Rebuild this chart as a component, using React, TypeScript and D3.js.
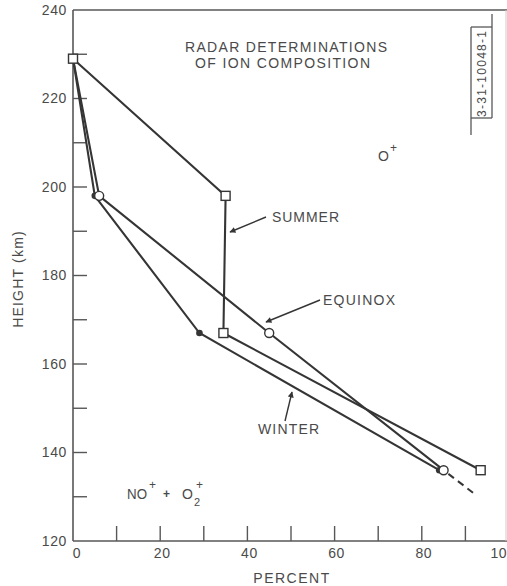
import React from "react";
import * as d3 from "d3";

const W = 507;
const H = 586;

type Pt = { p: number; h: number };

const summer: Pt[] = [
  { p: 0, h: 229 },
  { p: 35, h: 198 },
  { p: 34.5, h: 167 },
  { p: 93.5, h: 136 },
];
const equinox: Pt[] = [
  { p: 0, h: 229 },
  { p: 6, h: 198 },
  { p: 45, h: 167 },
  { p: 85, h: 136 },
];
const winter: Pt[] = [
  { p: 0, h: 229 },
  { p: 5, h: 198 },
  { p: 29, h: 167 },
  { p: 84, h: 136 },
];
const equinoxExtension: Pt[] = [
  { p: 85, h: 136 },
  { p: 92.3, h: 130.5 },
];

const xTicksMinor = d3.range(0, 101, 10);
const xTickLabels = [0, 20, 40, 60, 80, 100];
const yTicksMinor = d3.range(120, 241, 10);
const yTickLabels = [120, 140, 160, 180, 200, 220, 240];

const FONT = "'Liberation Sans', Arial, Helvetica, sans-serif";
const TXT = "#4a4a4a";
const LINE = "#353535";
const AX = "#575757";

export default function App() {
  const x = d3.scaleLinear().domain([0, 100]).range([73, 509]);
  const y = d3.scaleLinear().domain([120, 240]).range([541, 10]);
  const line = d3
    .line<Pt>()
    .x((d) => x(d.p))
    .y((d) => y(d.h));

  const arrow = (x1: number, y1: number, x2: number, y2: number, key: string) => (
    <line
      key={key}
      x1={x1}
      y1={y1}
      x2={x2}
      y2={y2}
      stroke={LINE}
      strokeWidth={1.4}
      markerEnd="url(#arrowhead)"
    />
  );

  const xLabelShift = (t: number) => (t === 0 ? 4 : t === 100 ? -6 : 2);

  return (
    <svg
      width={W}
      height={H}
      style={{ position: "absolute", left: 0, top: 0, background: "#fff" }}
      fontFamily={FONT}
    >
      <defs>
        <marker
          id="arrowhead"
          viewBox="0 0 10 10"
          refX="9"
          refY="5"
          markerWidth="7"
          markerHeight="6"
          orient="auto"
          markerUnits="userSpaceOnUse"
        >
          <path d="M0,0 L10,5 L0,10 z" fill={LINE} />
        </marker>
      </defs>
      <rect x={0} y={0} width={W} height={H} fill="#fff" />

      {/* frame */}
      <line x1={x(0)} y1={y(240)} x2={x(100)} y2={y(240)} stroke={AX} strokeWidth={1.5} />
      <line x1={x(0)} y1={y(240)} x2={x(0)} y2={y(120)} stroke={AX} strokeWidth={1.6} />
      <line x1={x(0)} y1={y(120)} x2={x(100)} y2={y(120)} stroke={AX} strokeWidth={1.6} />
      <line x1={x(100) - 3} y1={y(240)} x2={x(100) - 3} y2={y(120)} stroke="#ccc" strokeWidth={1} />

      {/* y ticks */}
      {yTicksMinor
        .filter((t) => t > 120 && t < 240)
        .map((t) => (
          <line key={"yt" + t} x1={x(0)} x2={x(0) + 14} y1={y(t)} y2={y(t)} stroke={AX} strokeWidth={1.4} />
        ))}
      {yTickLabels.map((t) => (
        <text
          key={"yl" + t}
          x={67}
          y={y(t)}
          dy="0.35em"
          textAnchor="end"
          fontSize={14}
          letterSpacing={0.6}
          fill={TXT}
        >
          {t}
        </text>
      ))}

      {/* x ticks */}
      {xTicksMinor
        .filter((t) => t > 0)
        .map((t) => (
          <line key={"xt" + t} x1={x(t)} x2={x(t)} y1={y(120)} y2={y(120) - 15} stroke={AX} strokeWidth={1.4} />
        ))}
      {xTickLabels.map((t) => (
        <text
          key={"xl" + t}
          x={x(t) + xLabelShift(t)}
          y={553}
          dy="0.35em"
          textAnchor="middle"
          fontSize={14}
          letterSpacing={0.6}
          fill={TXT}
        >
          {t}
        </text>
      ))}

      {/* axis titles */}
      <text x={292} y={578} dy="0.35em" textAnchor="middle" fontSize={14} fill={TXT} letterSpacing={1.5}>
        PERCENT
      </text>
      <text
        transform={`translate(18,279) rotate(-90)`}
        textAnchor="middle"
        dy="0.35em"
        fontSize={14}
        fill={TXT}
        letterSpacing={1.2}
      >
        HEIGHT (km)
      </text>

      {/* title */}
      <text x={185} y={47} dy="0.35em" fontSize={14} fill={TXT} textLength={202} lengthAdjust="spacing">
        RADAR DETERMINATIONS
      </text>
      <text x={195} y={63} dy="0.35em" fontSize={14} fill={TXT} textLength={175} lengthAdjust="spacing">
        OF ION COMPOSITION
      </text>

      {/* ID box */}
      <line x1={492} y1={14} x2={492} y2={118} stroke={AX} strokeWidth={1.3} />
      <line x1={471} y1={27} x2={492} y2={27} stroke={AX} strokeWidth={1.3} />
      <line x1={471} y1={27} x2={471} y2={135} stroke={AX} strokeWidth={1.3} />
      <line x1={471} y1={118} x2={492} y2={118} stroke={AX} strokeWidth={1.3} />
      <text
        transform="translate(482,74) rotate(-90)"
        textAnchor="middle"
        dy="0.35em"
        fontSize={12}
        fill={TXT}
        textLength={86}
        lengthAdjust="spacing"
      >
        3-31-10048-1
      </text>

      {/* data lines */}
      {[summer, equinox, winter].map((s, i) => (
        <path key={"s" + i} d={line(s) || ""} fill="none" stroke={LINE} strokeWidth={2.1} />
      ))}
      <path d={line(equinoxExtension) || ""} fill="none" stroke={LINE} strokeWidth={2} strokeDasharray="7,5" strokeDashoffset={-6} />

      {/* markers */}
      {summer.map((d, i) => (
        <rect key={"sq" + i} x={x(d.p) - 4.5} y={y(d.h) - 4.5} width={9} height={9} fill="#fff" stroke={LINE} strokeWidth={1.4} />
      ))}
      {winter.slice(1).map((d, i) => (
        <circle key={"wd" + i} cx={x(d.p)} cy={y(d.h)} r={3.3} fill={LINE} />
      ))}
      {equinox.slice(1).map((d, i) => (
        <circle key={"ec" + i} cx={x(d.p)} cy={y(d.h)} r={4.5} fill="#fff" stroke={LINE} strokeWidth={1.4} />
      ))}

      {/* annotations */}
      {arrow(266, 217, 230, 232, "a1")}
      {arrow(320, 300, 266, 322, "a2")}
      {arrow(285, 421, 292, 392, "a3")}
      <text x={272} y={217} dy="0.35em" fontSize={14} fill={TXT} textLength={67} lengthAdjust="spacing">
        SUMMER
      </text>
      <text x={323} y={300} dy="0.35em" fontSize={14} fill={TXT} textLength={72} lengthAdjust="spacing">
        EQUINOX
      </text>
      <text x={258} y={429} dy="0.35em" fontSize={14} fill={TXT} textLength={61} lengthAdjust="spacing">
        WINTER
      </text>

      <text x={378} y={156} dy="0.35em" fontSize={14} fill={TXT}>
        O
      </text>
      <text x={390} y={148} dy="0.35em" fontSize={12} fill={TXT}>
        +
      </text>

      <text x={127} y={494} dy="0.35em" fontSize={14} fill={TXT} textLength={20} lengthAdjust="spacingAndGlyphs">
        NO
      </text>
      <text x={149} y={485} dy="0.35em" fontSize={12} fill={TXT}>
        +
      </text>
      <text x={163} y={494} dy="0.35em" fontSize={12} fontWeight="bold" fill={TXT}>
        +
      </text>
      <text x={182} y={494} dy="0.35em" fontSize={14} fill={TXT}>
        O
      </text>
      <text x={194} y={502} dy="0.35em" fontSize={11} fill={TXT}>
        2
      </text>
      <text x={196} y={485} dy="0.35em" fontSize={12} fill={TXT}>
        +
      </text>
    </svg>
  );
}
